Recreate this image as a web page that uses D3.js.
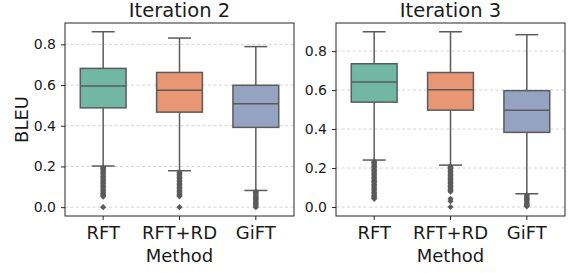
<!DOCTYPE html>
<html>
<head>
<meta charset="utf-8">
<script src="https://cdn.jsdelivr.net/npm/d3@7"></script>
<style>
  body { margin: 0; background: #fff; }
  svg { display: block; font-family: "DejaVu Sans", sans-serif; }
</style>
</head>
<body>
<svg id="chart" width="570" height="273"></svg>
<script>
// --- Data ---
const methods = ["RFT", "RFT+RD", "GiFT"];
const colors = ["#71b7a1", "#e99675", "#95a3c3"];
const yTicks = [0.0, 0.2, 0.4, 0.6, 0.8];

// box stats per method: [lowWhisker, q1, median, q3, highWhisker]
const iter2Stats = [
    [0.202, 0.488, 0.595, 0.682, 0.862],
    [0.179, 0.467, 0.575, 0.662, 0.831],
    [0.082, 0.392, 0.508, 0.599, 0.789]
];
const iter3Stats = [
    [0.241, 0.538, 0.641, 0.735, 0.899],
    [0.215, 0.497, 0.602, 0.690, 0.899],
    [0.068, 0.383, 0.497, 0.597, 0.884]
];
const iter2Outliers = [
    [0.195, 0.19, 0.184, 0.178, 0.172, 0.165, 0.158, 0.151, 0.144, 0.137, 0.13, 0.123, 0.116, 0.109, 0.102, 0.095, 0.088, 0.081, 0.074, 0.068, 0.062, 0.057, 0.052, 0.0],
    [0.172, 0.166, 0.16, 0.153, 0.146, 0.139, 0.132, 0.125, 0.118, 0.111, 0.104, 0.097, 0.09, 0.083, 0.076, 0.07, 0.064, 0.058, 0.053, 0.0],
    [0.077, 0.072, 0.066, 0.06, 0.054, 0.048, 0.042, 0.036, 0.03, 0.024, 0.018, 0.012, 0.006, 0.0]
];
const iter3Outliers = [
    [0.235, 0.229, 0.222, 0.215, 0.208, 0.201, 0.194, 0.187, 0.18, 0.173, 0.166, 0.159, 0.152, 0.145, 0.138, 0.131, 0.124, 0.117, 0.11, 0.103, 0.096, 0.089, 0.082, 0.075, 0.068, 0.061, 0.055, 0.048, 0.042],
    [0.209, 0.203, 0.196, 0.189, 0.182, 0.175, 0.168, 0.161, 0.154, 0.147, 0.14, 0.133, 0.126, 0.119, 0.112, 0.105, 0.098, 0.091, 0.085, 0.079, 0.042, 0.03, 0.0],
    [0.062, 0.056, 0.05, 0.044, 0.038, 0.032, 0.026, 0.02, 0.014, 0.008, 0.003]
];

const panels = [
    { title: "Iteration 2", stats: iter2Stats, outliers: iter2Outliers, x0: 65, x1: 294, ymin: -0.0435, ymax: 0.905, ylabel: true },
    { title: "Iteration 3", stats: iter3Stats, outliers: iter3Outliers, x0: 336, x1: 565, ymin: -0.046, ymax: 0.944, ylabel: false }
];

const plotTop = 23, plotBottom = 216;
const lineColor = "#5b5b5b";
const svg = d3.select("#chart");

panels.forEach(p => {
    const x = d3.scaleBand().domain(methods).range([p.x0, p.x1]).padding(0);
    const y = d3.scaleLinear().domain([p.ymin, p.ymax]).range([plotBottom, plotTop]);
    const g = svg.append("g");

    // grid
    g.selectAll(".grid").data(yTicks).enter().append("line")
        .attr("x1", p.x0).attr("x2", p.x1)
        .attr("y1", d => y(d)).attr("y2", d => y(d))
        .attr("stroke", "#c8c8c8").attr("stroke-width", 0.8)
        .attr("stroke-dasharray", "3,2.5");

    const boxW = x.bandwidth() * 0.6;
    const capW = boxW * 0.5;

    methods.forEach((m, i) => {
        const [lo, q1, med, q3, hi] = p.stats[i];
        const cx = x(m) + x.bandwidth() / 2;
        // whiskers
        g.append("line").attr("x1", cx).attr("x2", cx).attr("y1", y(q3)).attr("y2", y(hi))
            .attr("stroke", lineColor).attr("stroke-width", 1.5);
        g.append("line").attr("x1", cx).attr("x2", cx).attr("y1", y(q1)).attr("y2", y(lo))
            .attr("stroke", lineColor).attr("stroke-width", 1.5);
        [lo, hi].forEach(v => {
            g.append("line").attr("x1", cx - capW / 2).attr("x2", cx + capW / 2)
                .attr("y1", y(v)).attr("y2", y(v))
                .attr("stroke", lineColor).attr("stroke-width", 1.5);
        });
        // box
        g.append("rect").attr("x", cx - boxW / 2).attr("width", boxW)
            .attr("y", y(q3)).attr("height", y(q1) - y(q3))
            .attr("fill", colors[i]).attr("stroke", lineColor).attr("stroke-width", 1.5);
        g.append("line").attr("x1", cx - boxW / 2).attr("x2", cx + boxW / 2)
            .attr("y1", y(med)).attr("y2", y(med))
            .attr("stroke", lineColor).attr("stroke-width", 1.5);
        // outliers (diamonds)
        g.selectAll(null).data(p.outliers[i]).enter().append("path")
            .attr("d", d3.symbol().type(d3.symbolDiamond2).size(24))
            .attr("transform", d => `translate(${cx},${y(d)})`)
            .attr("fill", lineColor);
    });

    // spines
    g.append("rect").attr("x", p.x0).attr("y", plotTop)
        .attr("width", p.x1 - p.x0).attr("height", plotBottom - plotTop)
        .attr("fill", "none").attr("stroke", "#262626").attr("stroke-width", 1);

    // y axis
    const yAxis = d3.axisLeft(y).tickValues(yTicks).tickFormat(d3.format(".1f")).tickSize(4).tickPadding(5);
    const ya = svg.append("g").attr("transform", `translate(${p.x0},0)`).call(yAxis);
    ya.select(".domain").remove();
    ya.selectAll("line").attr("stroke", "#262626");
    ya.selectAll("text").attr("font-size", 14).attr("fill", "#1a1a1a")
        .attr("font-family", "DejaVu Sans, sans-serif");

    // x axis
    const xAxis = d3.axisBottom(x).tickSize(4).tickPadding(6);
    const xa = svg.append("g").attr("transform", `translate(0,${plotBottom})`).call(xAxis);
    xa.select(".domain").remove();
    xa.selectAll("line").attr("stroke", "#262626");
    xa.selectAll("text").attr("font-size", 18).attr("fill", "#1a1a1a")
        .attr("font-family", "DejaVu Sans, sans-serif");

    // titles and labels
    const cxPanel = (p.x0 + p.x1) / 2;
    svg.append("text").attr("x", cxPanel).attr("y", 17).attr("text-anchor", "middle")
        .attr("font-size", 19.5).attr("fill", "#1a1a1a").text(p.title);
    svg.append("text").attr("x", cxPanel).attr("y", 262).attr("text-anchor", "middle")
        .attr("font-size", 18).attr("fill", "#1a1a1a").text("Method");
    if (p.ylabel) {
        svg.append("text").attr("transform", `translate(28,${(plotTop + plotBottom) / 2}) rotate(-90)`)
            .attr("text-anchor", "middle").attr("font-size", 18).attr("fill", "#1a1a1a").text("BLEU");
    }
});
</script>
</body>
</html>
